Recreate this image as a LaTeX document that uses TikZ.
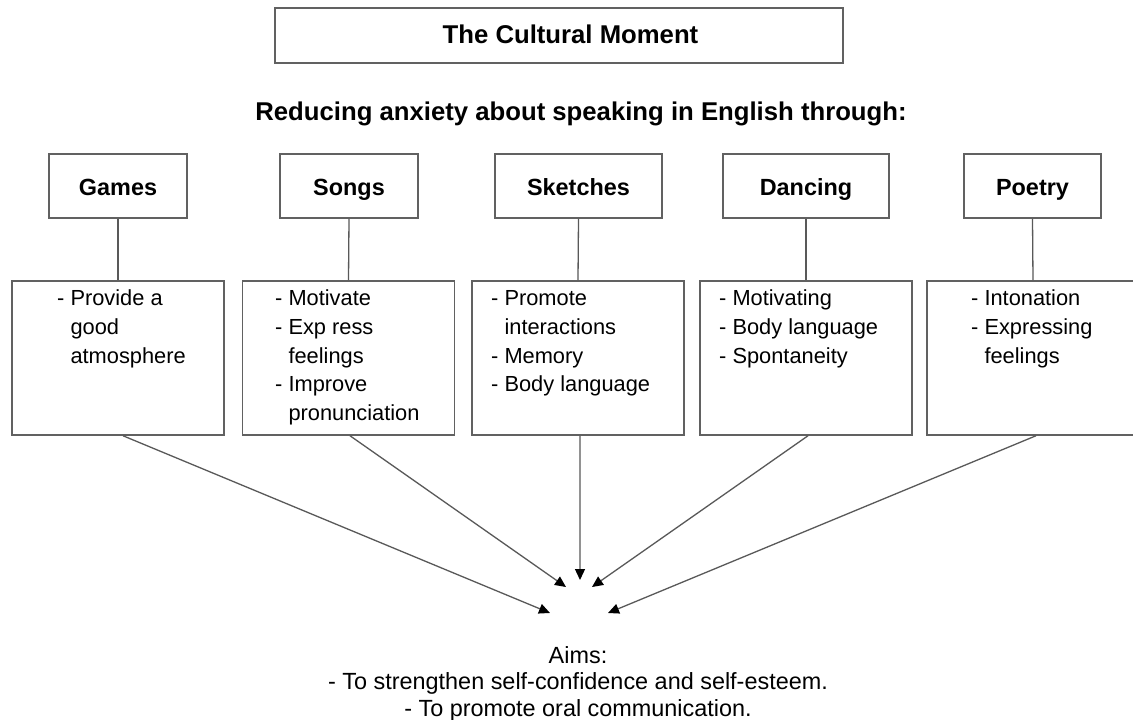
\documentclass[tikz,border=0pt]{standalone}
\usepackage{fontspec}
\setmainfont{Liberation Sans}
\usetikzlibrary{arrows.meta}
\begin{document}
\begin{tikzpicture}[x=1bp,y=-1bp,
  boxline/.style={draw=black!62, line width=1.5bp},
  catbox/.style={boxline, rectangle, inner sep=0pt, minimum height=64bp,
    text height=20bp, text depth=0pt,
    font=\fontsize{23.5}{28}\selectfont\bfseries},
  listbox/.style={boxline, rectangle, inner sep=0pt, minimum width=212bp, minimum height=154bp},
  listtext/.style={anchor=north west, inner sep=0pt, align=left,
    font=\fontsize{21.9}{28.7}\selectfont},
  link/.style={draw=black!65, line width=1.3bp},
  arr/.style={draw=black!65, line width=1.3bp,
    -{Triangle[length=11bp,width=10bp,color=black]}},
]
\clip (0,0) rectangle (1133,720);
\fill[white] (0,0) rectangle (1133,720);

% title
\node[boxline, rectangle, minimum width=568bp, minimum height=55bp, inner sep=0pt] (title) at (559,35.5) {};
\node[anchor=base, inner sep=0pt, font=\fontsize{25.8}{30}\selectfont\bfseries] (titletext) at (570.5,44) {The Cultural Moment};

% subtitle
\node[anchor=base, inner sep=0pt, font=\fontsize{25.8}{30}\selectfont\bfseries] (sub) at (581,121) {Reducing anxiety about speaking in English through:};

% category boxes
\node[catbox, minimum width=138bp] (g) at (118,186) {Games};
\node[catbox, minimum width=138bp] (s) at (349,186) {Songs};
\node[catbox, minimum width=167bp] (k) at (578.5,186) {Sketches};
\node[catbox, minimum width=166bp] (d) at (806,186) {Dancing};
\node[catbox, minimum width=137bp] (p) at (1032.5,186) {Poetry};

% list boxes
\node[listbox] (lg) at (118,358) {};
\node[listbox] (ls) at (348.5,358) {};
\node[listbox] (lk) at (578,358) {};
\node[listbox] (ld) at (806,358) {};
\node[listbox] (lp) at (1033,358) {};

% list texts
\node[listtext] (tg) at (57,285.7) {\strut- Provide a\\\hphantom{-\ }good\\\hphantom{-\ }atmosphere};
\node[listtext] (ts) at (275,285.7) {\strut- Motivate\\- Exp ress\\\hphantom{-\ }feelings\\- Improve\\\hphantom{-\ }pronunciation};
\node[listtext] (tk) at (491,285.7) {\strut- Promote\\\hphantom{-\ }interactions\\- Memory\\- Body language};
\node[listtext] (td) at (719,285.7) {\strut- Motivating\\- Body language\\- Spontaneity};
\node[listtext] (tp) at (971,285.7) {\strut- Intonation\\- Expressing\\\hphantom{-\ }feelings};

% connectors
\draw[link] (g.south) -- (lg.north);
\draw[link] (s.south) -- (ls.north);
\draw[link] (k.south) -- (lk.north);
\draw[link] (d.south) -- (ld.north);
\draw[link] (p.south) -- (lp.north);

% arrow targets
\coordinate (t1) at (550,613);
\coordinate (t2) at (566,587);
\coordinate (t3) at (580,580);
\coordinate (t4) at (592,587);
\coordinate (t5) at (608,613);

\draw[arr] ([xshift=5bp]lg.south) -- (t1);
\draw[arr] ([xshift=1.5bp]ls.south) -- (t2);
\draw[arr] ([xshift=2bp]lk.south) -- (t3);
\draw[arr] ([xshift=2bp]ld.south) -- (t4);
\draw[arr] ([xshift=3bp]lp.south) -- (t5);

% aims
\node[anchor=north, inner sep=0pt, align=center, font=\fontsize{23.5}{26.6}\selectfont] (aims) at (578,644.4)
  {\strut Aims:\\- To strengthen self-confidence and self-esteem.\\- To promote oral communication.};
\end{tikzpicture}
\end{document}
